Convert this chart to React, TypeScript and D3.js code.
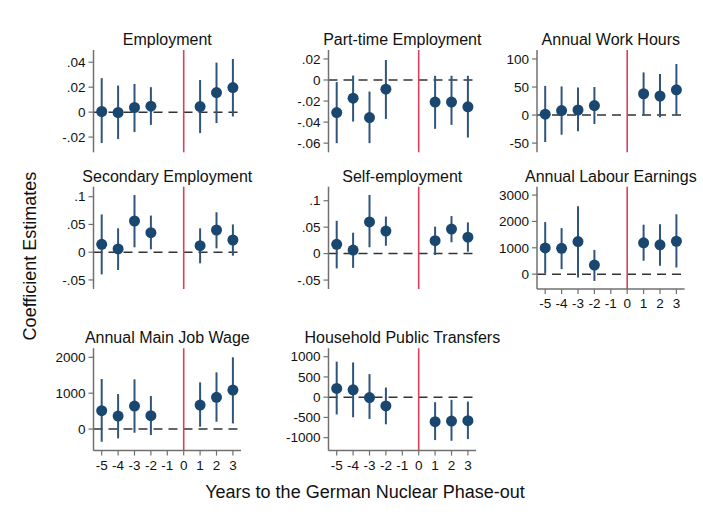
import React from "react";
import * as d3 from "d3";

// ---------- data ----------
const years = [-5, -4, -3, -2, 1, 2, 3];
const xTicks = [-5, -4, -3, -2, -1, 0, 1, 2, 3];

const titles = [
  "Employment",
  "Part-time Employment",
  "Annual Work Hours",
  "Secondary Employment",
  "Self-employment",
  "Annual Labour Earnings",
  "Annual Main Job Wage",
  "Household Public Transfers",
];

const empEst = [0.0005, -0.0003, 0.0037, 0.0048, 0.0045, 0.0157, 0.0197];
const empLo = [-0.0248, -0.0216, -0.016, -0.0102, -0.0168, -0.0088, -0.0035];
const empHi = [0.0272, 0.0213, 0.0226, 0.02, 0.0258, 0.0397, 0.0426];

const ptEst = [-0.0309, -0.0173, -0.0357, -0.0087, -0.021, -0.021, -0.0255];
const ptLo = [-0.06, -0.0395, -0.06, -0.037, -0.0464, -0.0426, -0.0547];
const ptHi = [-0.002, 0.0042, -0.011, 0.019, 0.004, 0.004, 0.004];

const hoursEst = [1.6, 8, 9, 17, 38, 34, 45];
const hoursLo = [-48, -35, -29, -16, 0, -4, 0];
const hoursHi = [52, 51, 49, 50, 76, 73, 91];

const secEst = [0.0142, 0.0058, 0.0562, 0.0351, 0.0117, 0.04, 0.022];
const secLo = [-0.04, -0.032, 0.0088, 0.0052, -0.02, 0.007, -0.0063];
const secHi = [0.068, 0.043, 0.103, 0.066, 0.043, 0.072, 0.05];

const selfEst = [0.0176, 0.0068, 0.06, 0.0427, 0.0244, 0.0465, 0.031];
const selfLo = [-0.028, -0.027, 0.012, 0.0149, -0.0026, 0.0214, 0.0036];
const selfHi = [0.062, 0.0395, 0.111, 0.07, 0.051, 0.071, 0.059];

const earnEst = [996, 981, 1238, 345, 1188, 1111, 1249];
const earnLo = [23, 192, -130, -257, 510, 318, 253];
const earnHi = [1977, 1747, 2579, 920, 1877, 1889, 2272];

const wageEst = [511, 363, 642, 372, 669, 884, 1088];
const wageLo = [-354, -260, -102, -167, 65, 205, 158];
const wageHi = [1395, 976, 1386, 921, 1302, 1581, 2000];

const transEst = [216, 181, -10, -216, -606, -589, -581];
const transLo = [-427, -496, -538, -670, -1060, -1077, -1035];
const transHi = [878, 859, 571, 238, -124, -67, -109];

const yTickValues = [
  [0.04, 0.02, 0, -0.02],
  [0.02, 0, -0.02, -0.04, -0.06],
  [100, 50, 0, -50],
  [0.1, 0.05, 0, -0.05],
  [0.1, 0.05, 0, -0.05],
  [3000, 2000, 1000, 0],
  [2000, 1000, 0],
  [1000, 500, 0, -500, -1000],
];
const yTickLabels = [
  [".04", ".02", "0", "-.02"],
  [".02", "0", "-.02", "-.04", "-.06"],
  ["100", "50", "0", "-50"],
  [".1", ".05", "0", "-.05"],
  [".1", ".05", "0", "-.05"],
  ["3000", "2000", "1000", "0"],
  ["2000", "1000", "0"],
  ["1000", "500", "0", "-500", "-1000"],
];
const yDomains: [number, number][] = [
  [-0.0322, 0.0498],
  [-0.0687, 0.0285],
  [-66.4, 116],
  [-0.0663, 0.118],
  [-0.0669, 0.1265],
  [-563, 3318],
  [-600, 2251],
  [-1320, 1208],
];

const estimates = [empEst, ptEst, hoursEst, secEst, selfEst, earnEst, wageEst, transEst];
const lows = [empLo, ptLo, hoursLo, secLo, selfLo, earnLo, wageLo, transLo];
const highs = [empHi, ptHi, hoursHi, secHi, selfHi, earnHi, wageHi, transHi];

// ---------- layout ----------
const W = 703;
const H = 512;
const colAxisX = [93.5, 328.5, 537];
const rowTop = [50, 186.7, 348.3];
const plotH = 102.3;
const plotW = 147.6;
const FONT = "'Liberation Sans', Arial, sans-serif";
const NAVY = "#1a476f";
const BAR = "#2f557d";
const RED = "#d8405e";
const AXIS = "#707070";

function Panel({ i }: { i: number }) {
  const row = Math.floor(i / 3);
  const col = i % 3;
  const x0 = colAxisX[col];
  const top = rowTop[row];
  const bottom = top + plotH;
  const hasXAxis = i >= 5;
  const x = d3.scaleLinear().domain([-5.5, 3.5]).range([x0, x0 + plotW]);
  const y = d3.scaleLinear().domain(yDomains[i]).range([bottom, top]);
  const est = estimates[i];
  const lo = lows[i];
  const hi = highs[i];
  return (
    <g>
      <text
        x={x0 + plotW / 2}
        y={top - 5}
        textAnchor="middle"
        fontSize={16}
        fill="#111"
        fontFamily={FONT}
      >
        {titles[i]}
      </text>
      {/* zero reference */}
      <line
        x1={x0}
        x2={x0 + plotW}
        y1={y(0)}
        y2={y(0)}
        stroke="#333"
        strokeWidth={1.5}
        strokeDasharray="9 6"
      />
      {/* phase-out line */}
      <line x1={x(0)} x2={x(0)} y1={top} y2={bottom} stroke={RED} strokeWidth={1.6} />
      {/* y axis */}
      <line x1={x0} x2={x0} y1={top} y2={bottom} stroke={AXIS} strokeWidth={1.5} />
      {yTickValues[i].map((v, k) => (
        <g key={k}>
          <line x1={x0 - 5} x2={x0} y1={y(v)} y2={y(v)} stroke={AXIS} strokeWidth={1.2} />
          <text
            x={x0 - 8}
            y={y(v)}
            dy="0.35em"
            textAnchor="end"
            fontSize={13.5}
            fill="#111"
            fontFamily={FONT}
          >
            {yTickLabels[i][k]}
          </text>
        </g>
      ))}
      {hasXAxis && (
        <g>
          <line x1={x0} x2={x0 + plotW} y1={bottom} y2={bottom} stroke={AXIS} strokeWidth={1.5} />
          {xTicks.map((t) => (
            <g key={t}>
              <line x1={x(t)} x2={x(t)} y1={bottom} y2={bottom + 5} stroke={AXIS} strokeWidth={1.2} />
              <text
                x={x(t)}
                y={bottom + 19}
                textAnchor="middle"
                fontSize={13.5}
                fill="#111"
                fontFamily={FONT}
              >
                {t}
              </text>
            </g>
          ))}
        </g>
      )}
      {/* confidence intervals */}
      {years.map((yr, k) => (
        <line
          key={"ci" + k}
          x1={x(yr)}
          x2={x(yr)}
          y1={y(lo[k])}
          y2={y(hi[k])}
          stroke={BAR}
          strokeWidth={2}
        />
      ))}
      {/* point estimates */}
      {years.map((yr, k) => (
        <circle key={"pt" + k} cx={x(yr)} cy={y(est[k])} r={5.5} fill={NAVY} />
      ))}
    </g>
  );
}

export default function App() {
  return (
    <svg
      width={W}
      height={H}
      viewBox={`0 0 ${W} ${H}`}
      style={{ position: "absolute", left: 0, top: 0, background: "#fff" }}
    >
      <rect x={0} y={0} width={W} height={H} fill="#fff" />
      {titles.map((_, i) => (
        <Panel key={i} i={i} />
      ))}
      <text
        x={30}
        y={256}
        transform="rotate(-90 30 256)"
        textAnchor="middle"
        dy="0.35em"
        fontSize={18}
        fill="#111"
        fontFamily={FONT}
      >
        Coefficient Estimates
      </text>
      <text
        x={365}
        y={498}
        textAnchor="middle"
        fontSize={18}
        fill="#111"
        fontFamily={FONT}
      >
        Years to the German Nuclear Phase-out
      </text>
    </svg>
  );
}
